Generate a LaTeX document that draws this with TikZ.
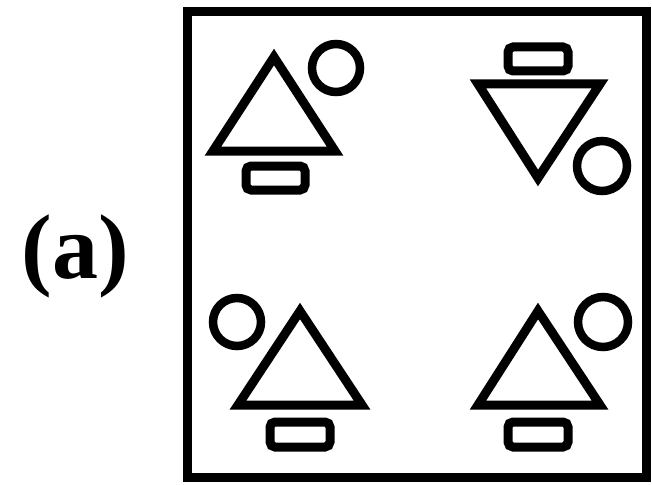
\documentclass[tikz,border=0pt]{standalone}
\usepackage{fontspec}
\setmainfont{Liberation Serif}
\begin{document}
\begin{tikzpicture}[x=1pt,y=-1pt,
  sym/.style={line width=9pt,line join=miter,draw=black},
  tag/.style={line width=9pt,draw=black,rounded corners=5pt},
  ring/.style={line width=8.5pt,draw=black}]
\useasboundingbox (0,0) rectangle (652,484);
\node[anchor=base,inner sep=0pt,font=\fontsize{92}{92}\selectfont\bfseries] (lbl) at (75,278) {(a)};
\draw[line width=9pt] (187,12) rectangle (646,477);
% top-left
\draw[sym] (213,151) -- (335,151) -- (274,57) -- cycle;
\draw[tag] (246,166) rectangle (305,190);
\draw[ring] (336,68) circle (24);
% top-right
\draw[sym] (478,84) -- (600,84) -- (538,178) -- cycle;
\draw[tag] (508,47) rectangle (568,71);
\draw[ring] (602,166) circle (25);
% bottom-left
\draw[sym] (238,405) -- (362,405) -- (300,311) -- cycle;
\draw[tag] (270,422) rectangle (330,447);
\draw[ring] (237,322) circle (24);
% bottom-right
\draw[sym] (478,405) -- (600,405) -- (538,311) -- cycle;
\draw[tag] (508,422) rectangle (568,447);
\draw[ring] (603,322) circle (25);
\end{tikzpicture}
\end{document}
